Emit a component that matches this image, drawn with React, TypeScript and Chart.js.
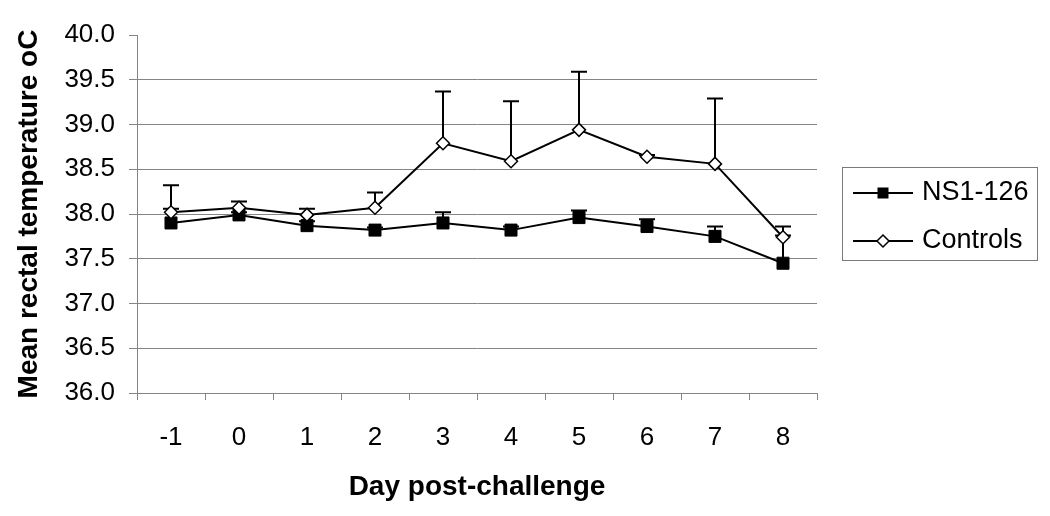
import { useEffect, useRef } from 'react';
import { Chart, registerables } from 'chart.js';

Chart.register(...registerables);

// ---- data ----
const days = ['-1', '0', '1', '2', '3', '4', '5', '6', '7', '8'];
const ns1Mean = [37.9, 37.99, 37.87, 37.82, 37.9, 37.82, 37.96, 37.86, 37.75, 37.45];
const ns1Err = [0.16, 0.03, 0.05, 0.03, 0.12, 0.04, 0.08, 0.08, 0.11, 0.31];
const ctrlMean = [38.02, 38.07, 37.99, 38.07, 38.79, 38.59, 38.94, 38.64, 38.56, 37.74];
const ctrlErr = [0.3, 0.07, 0.07, 0.17, 0.58, 0.67, 0.65, 0.02, 0.73, 0.12];
const seriesNames = ['NS1-126', 'Controls'];
const yTicks = [36, 36.5, 37, 37.5, 38, 38.5, 39, 39.5, 40];
const yTitle = 'Mean rectal temperature oC';
const xTitle = 'Day post-challenge';

const FONT = "'Liberation Sans', Arial, sans-serif";
const GRID = '#858585';

const errorBarPlugin = {
  id: 'errorBars',
  beforeDatasetsDraw(chart: any) {
    const ctx = chart.ctx;
    const ys = chart.scales.y;
    ctx.save();
    ctx.strokeStyle = '#000';
    ctx.lineWidth = 2;
    chart.data.datasets.forEach((ds: any, i: number) => {
      const meta = chart.getDatasetMeta(i);
      ds.data.forEach((v: number, j: number) => {
        const e = ds.errors[j];
        const pt = meta.data[j];
        const x = pt.x;
        const y0 = ys.getPixelForValue(v);
        const y1 = ys.getPixelForValue(v + e);
        ctx.beginPath();
        ctx.moveTo(x, y0);
        ctx.lineTo(x, y1);
        ctx.moveTo(x - 8, y1);
        ctx.lineTo(x + 8, y1);
        ctx.stroke();
      });
    });
    ctx.restore();
  },
};

const legendPlugin = {
  id: 'customLegend',
  afterDraw(chart: any) {
    const ctx = chart.ctx;
    const left = 842, top = 167, right = 1037, bottom = 260;
    ctx.save();
    ctx.strokeStyle = '#7a7a7a';
    ctx.lineWidth = 1;
    ctx.strokeRect(left + 0.5, top + 0.5, right - left, bottom - top);
    const rows = [193, 241];
    seriesNames.forEach((name, i) => {
      const y = rows[i];
      ctx.strokeStyle = '#000';
      ctx.lineWidth = 2;
      ctx.beginPath();
      ctx.moveTo(853, y);
      ctx.lineTo(913, y);
      ctx.stroke();
      if (i === 0) {
        ctx.fillStyle = '#000';
        ctx.fillRect(883 - 5.5, y - 5.5, 11, 11);
      } else {
        ctx.fillStyle = '#fff';
        ctx.lineWidth = 1.5;
        ctx.beginPath();
        ctx.moveTo(883, y - 6);
        ctx.lineTo(889, y);
        ctx.lineTo(883, y + 6);
        ctx.lineTo(877, y);
        ctx.closePath();
        ctx.fill();
        ctx.stroke();
      }
      ctx.fillStyle = '#000';
      ctx.font = `27px ${FONT}`;
      ctx.textBaseline = 'middle';
      ctx.textAlign = 'left';
      ctx.fillText(name, 922, y);
    });
    ctx.restore();
  },
};

export default function App() {
  const ref = useRef<HTMLCanvasElement | null>(null);
  useEffect(() => {
    if (!ref.current) return;
    const chart = new Chart(ref.current, {
      type: 'line',
      data: {
        labels: days,
        datasets: [
          {
            label: seriesNames[0],
            data: ns1Mean,
            errors: ns1Err,
            borderColor: '#000',
            borderWidth: 2,
            pointStyle: 'rect',
            pointRadius: 8.5,
            pointBackgroundColor: '#000',
            pointBorderColor: '#000',
            pointBorderWidth: 1,
            tension: 0,
            order: 2,
          } as any,
          {
            label: seriesNames[1],
            data: ctrlMean,
            errors: ctrlErr,
            borderColor: '#000',
            borderWidth: 2,
            pointStyle: 'rectRot',
            pointRadius: 6.5,
            pointBackgroundColor: '#fff',
            pointBorderColor: '#000',
            pointBorderWidth: 1.5,
            tension: 0,
            order: 1,
          } as any,
        ],
      },
      options: {
        animation: false,
        responsive: false,
        layout: { padding: { top: 35, right: 233, bottom: 0, left: 0 } },
        plugins: {
          legend: { display: false },
          tooltip: { enabled: false },
        },
        scales: {
          x: {
            type: 'category',
            offset: true,
            afterFit: (s: any) => { s.height = 123; },
            grid: {
              offset: true,
              drawOnChartArea: false,
              drawTicks: true,
              tickLength: 7,
              tickColor: GRID,
              tickWidth: 1,
            },
            border: { color: GRID, width: 1 },
            ticks: {
              color: '#000',
              font: { family: FONT, size: 26 },
              padding: 22,
              maxRotation: 0,
            },
            title: {
              display: true,
              text: xTitle,
              color: '#000',
              font: { family: FONT, size: 28, weight: 'bold' },
              padding: { top: 0, bottom: 12 },
            },
          },
          y: {
            min: 36,
            max: 40,
            afterFit: (s: any) => { s.width = 137; },
            afterBuildTicks: (s: any) => { s.ticks = yTicks.map((v) => ({ value: v })); },
            grid: {
              color: (c: any) => (c.tick && c.tick.value === 40 ? 'rgba(0,0,0,0)' : GRID),
              tickColor: GRID,
              tickLength: 8,
              lineWidth: 1,
            },
            border: { color: GRID, width: 1 },
            ticks: {
              color: '#000',
              font: { family: FONT, size: 26 },
              padding: 14,
              callback: (v: any) => Number(v).toFixed(1),
            },
            title: {
              display: true,
              text: yTitle,
              color: '#000',
              font: { family: FONT, size: 28, weight: 'bold' },
              padding: { top: 12, bottom: 0 },
            },
          },
        },
      } as any,
      plugins: [errorBarPlugin, legendPlugin],
    });
    return () => chart.destroy();
  }, []);
  return (
    <div style={{ position: 'absolute', left: 0, top: 0, width: 1050, height: 516, background: '#fff' }}>
      <canvas ref={ref} width={1050} height={516} />
    </div>
  );
}
